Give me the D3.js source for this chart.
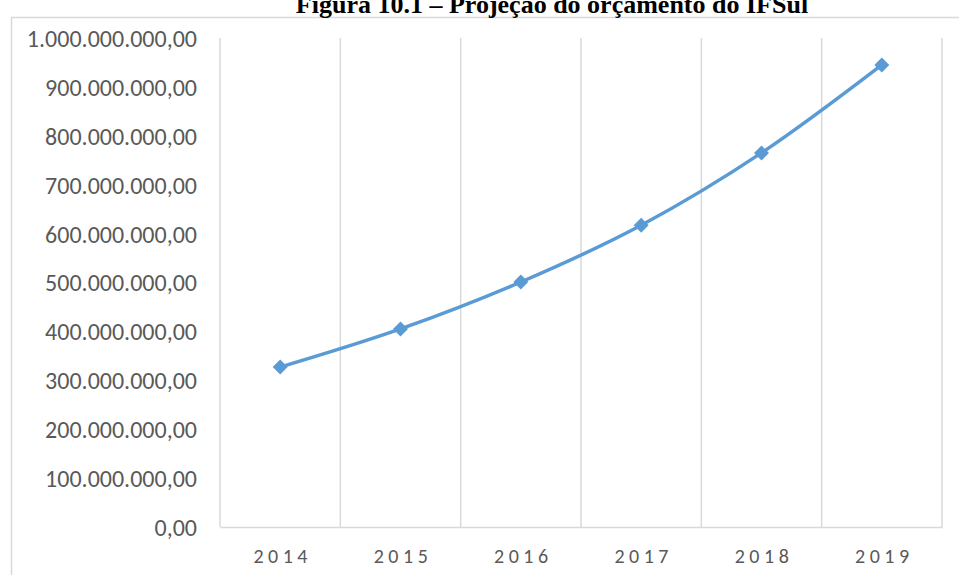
<!DOCTYPE html>
<html>
<head>
<meta charset="utf-8">
<script src="https://cdn.jsdelivr.net/npm/d3@7"></script>
<style>
  body { margin: 0; background: #fff; }
  svg { display: block; }
</style>
</head>
<body>
<svg id="canvas" width="959" height="575"></svg>
<script>
// data
var years = ['2014', '2015', '2016', '2017', '2018', '2019'];
var budget = [327000000, 405000000, 501000000, 617000000, 765000000, 945000000];
var yTicks = [0, 100000000, 200000000, 300000000, 400000000, 500000000, 600000000, 700000000, 800000000, 900000000, 1000000000];
var title = 'Figura 10.1 – Projeção do orçamento do IFSul';

// layout
var plot = { left: 220, right: 942, top: 38, bottom: 527 };
var svg = d3.select('#canvas');

// chart frame (left and top borders)
svg.append('path')
  .attr('d', 'M11.5,575 L11.5,17.5 L959,17.5')
  .style('fill', 'none').style('stroke', '#d9d9d9').style('stroke-width', 1.5);

// title (cut by the top edge, as in the source page)
svg.append('text')
  .attr('x', 552).attr('y', 13)
  .attr('text-anchor', 'middle')
  .style('font-family', '"Liberation Serif", "Times New Roman", serif')
  .style('font-weight', 'bold').style('font-size', '26px')
  .style('fill', '#000')
  .text(title);

// scales
var x = d3.scaleBand().domain(years).range([plot.left, plot.right]).padding(0);
var y = d3.scaleLinear().domain([0, 1000000000]).range([plot.bottom, plot.top]);

var fmt = function(v){
  var s = d3.format(',.2f')(v);
  return s.replace(/,/g, '#').replace('.', ',').replace(/#/g, '.');
};

// vertical gridlines at category boundaries
var bounds = years.map(function(d){ return x(d); }).concat([plot.right]);
svg.append('g').selectAll('line').data(bounds).enter().append('line')
  .attr('x1', function(d){ return d; }).attr('x2', function(d){ return d; })
  .attr('y1', plot.top).attr('y2', plot.bottom)
  .style('stroke', '#d9d9d9').style('stroke-width', 1.5);

// y axis labels
var yAxis = svg.append('g').attr('transform', 'translate(' + 197 + ',0)')
  .call(d3.axisLeft(y).tickValues(yTicks).tickFormat(fmt).tickSize(0).tickPadding(0));
yAxis.select('.domain').remove();
yAxis.selectAll('text')
  .style('font-family', 'Carlito, Calibri, Roboto, sans-serif')
  .style('font-size', '24px').style('fill', '#595959')
  .attr('dy', '0.35em');

// x axis
var xAxis = svg.append('g').attr('transform', 'translate(0,' + plot.bottom + ')')
  .call(d3.axisBottom(x).tickSize(0).tickPadding(0));
xAxis.select('.domain')
  .style('stroke', '#d9d9d9').style('stroke-width', 1.5);
xAxis.selectAll('text')
  .attr('y', 22).attr('dx', 2.5)
  .style('font-family', 'Carlito, Calibri, Roboto, sans-serif')
  .style('font-size', '20px').style('letter-spacing', '4.5px')
  .style('fill', '#595959');

// series line
var cx = function(d, i){ return x(years[i]) + x.bandwidth() / 2; };
var line = d3.line()
  .x(cx)
  .y(function(d){ return y(d); })
  .curve(d3.curveCatmullRom.alpha(0));

svg.append('path').datum(budget)
  .attr('d', line)
  .style('fill', 'none').style('stroke', '#5b9bd5').style('stroke-width', 3.5)
  .style('stroke-linejoin', 'round');

// diamond markers
var diamond = d3.symbol().type(d3.symbolSquare).size(112);
svg.append('g').selectAll('path').data(budget).enter().append('path')
  .attr('d', diamond)
  .attr('transform', function(d, i){ return 'translate(' + cx(d, i) + ',' + y(d) + ') rotate(45)'; })
  .style('fill', '#5b9bd5');
</script>
</body>
</html>
